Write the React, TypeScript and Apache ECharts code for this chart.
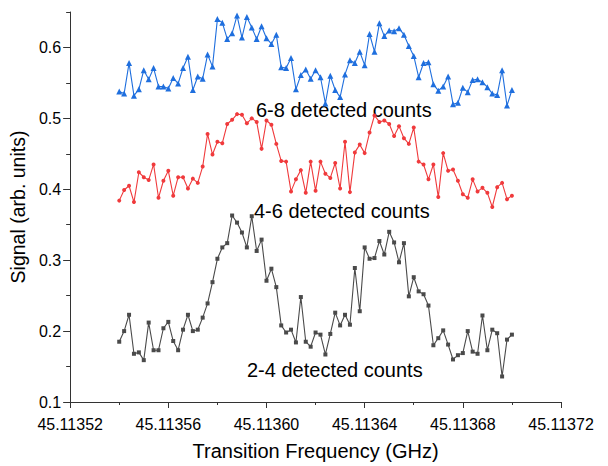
import React, { useEffect, useRef } from "react";
import * as echarts from "echarts";

// Transition frequency sweep (GHz)
const frequencies = [
  45.11354, 45.113542, 45.113544, 45.113546, 45.113548, 45.11355, 45.113552, 45.113554, 45.113556, 45.113558,
  45.11356, 45.113562, 45.113564, 45.113566, 45.113568, 45.11357, 45.113572, 45.113574, 45.113576, 45.113578,
  45.11358, 45.113582, 45.113584, 45.113586, 45.113588, 45.11359, 45.113592, 45.113594, 45.113596, 45.113598,
  45.1136, 45.113602, 45.113604, 45.113606, 45.113608, 45.11361, 45.113612, 45.113614, 45.113616, 45.113618,
  45.11362, 45.113622, 45.113624, 45.113626, 45.113628, 45.11363, 45.113632, 45.113634, 45.113636, 45.113638,
  45.11364, 45.113642, 45.113644, 45.113646, 45.113648, 45.11365, 45.113652, 45.113654, 45.113656, 45.113658,
  45.11366, 45.113662, 45.113664, 45.113666, 45.113668, 45.11367, 45.113672, 45.113674, 45.113676, 45.113678,
  45.11368, 45.113682, 45.113684, 45.113686, 45.113688, 45.11369, 45.113692, 45.113694, 45.113696, 45.113698,
  45.1137,
];

// 6-8 detected counts (blue, triangles)
const counts68 = [
  0.538, 0.535, 0.578, 0.532, 0.541, 0.568, 0.555, 0.571, 0.545, 0.545,
  0.542, 0.557, 0.549, 0.571, 0.587, 0.540, 0.559, 0.556, 0.590, 0.573,
  0.640, 0.635, 0.612, 0.620, 0.645, 0.614, 0.643, 0.628, 0.612, 0.630,
  0.613, 0.605, 0.618, 0.572, 0.571, 0.585, 0.541, 0.561, 0.569, 0.556,
  0.568, 0.558, 0.521, 0.560, 0.540, 0.530, 0.562, 0.582, 0.578, 0.594,
  0.575, 0.619, 0.594, 0.634, 0.616, 0.624, 0.623, 0.627, 0.618, 0.602,
  0.588, 0.558, 0.578, 0.579, 0.548, 0.539, 0.545, 0.559, 0.520, 0.522,
  0.543, 0.537, 0.554, 0.555, 0.551, 0.544, 0.535, 0.533, 0.568, 0.518,
  0.540,
];

// 4-6 detected counts (red, circles)
const counts46 = [
  0.384, 0.399, 0.405, 0.382, 0.424, 0.417, 0.413, 0.435, 0.388, 0.412,
  0.426, 0.391, 0.417, 0.417, 0.401, 0.415, 0.409, 0.432, 0.478, 0.449,
  0.467, 0.465, 0.492, 0.498, 0.506, 0.505, 0.493, 0.500, 0.495, 0.457,
  0.497, 0.491, 0.464, 0.440, 0.439, 0.397, 0.414, 0.427, 0.395, 0.439,
  0.398, 0.439, 0.422, 0.416, 0.437, 0.401, 0.467, 0.396, 0.452, 0.463,
  0.451, 0.480, 0.504, 0.495, 0.497, 0.492, 0.475, 0.489, 0.472, 0.464,
  0.487, 0.439, 0.435, 0.414, 0.435, 0.389, 0.451, 0.426, 0.428, 0.412,
  0.393, 0.388, 0.414, 0.397, 0.402, 0.395, 0.375, 0.403, 0.409, 0.386,
  0.391,
];

// 2-4 detected counts (dark grey, squares)
const counts24 = [
  0.185, 0.200, 0.223, 0.168, 0.170, 0.159, 0.212, 0.173, 0.173, 0.204,
  0.213, 0.186, 0.173, 0.202, 0.223, 0.200, 0.202, 0.219, 0.239, 0.269,
  0.302, 0.318, 0.324, 0.363, 0.353, 0.339, 0.318, 0.362, 0.313, 0.329,
  0.271, 0.288, 0.262, 0.208, 0.198, 0.202, 0.184, 0.248, 0.185, 0.178,
  0.198, 0.195, 0.167, 0.196, 0.226, 0.208, 0.223, 0.209, 0.289, 0.228,
  0.318, 0.302, 0.303, 0.327, 0.308, 0.340, 0.325, 0.297, 0.324, 0.249,
  0.276, 0.256, 0.252, 0.236, 0.180, 0.190, 0.201, 0.181, 0.160, 0.166,
  0.169, 0.200, 0.171, 0.168, 0.222, 0.173, 0.202, 0.197, 0.136, 0.188,
  0.195,
];

const yTickValues = [0.1, 0.2, 0.3, 0.4, 0.5, 0.6];
const seriesNames = ["6-8 detected counts", "4-6 detected counts", "2-4 detected counts"];

export default function App() {
  const ref = useRef<HTMLDivElement>(null);

  useEffect(() => {
    if (!ref.current) return;
    const chart = echarts.init(ref.current, null, { renderer: "svg" });
    const font = "'Liberation Sans', Arial, sans-serif";
    const axisColor = "#333333";
    const pair = (ys: number[]) => frequencies.map((f, i) => [f, ys[i]]);

    chart.setOption({
      animation: false,
      backgroundColor: "#ffffff",
      grid: { left: 70, right: 47, top: 12, bottom: 60 },
      xAxis: {
        type: "value",
        min: 45.11352,
        max: 45.11372,
        interval: 0.00004,
        name: "Transition Frequency (GHz)",
        nameLocation: "middle",
        nameGap: 39,
        nameTextStyle: { fontFamily: font, fontSize: 20, color: "#000" },
        axisLine: { show: true, onZero: false, lineStyle: { color: axisColor, width: 1 } },
        axisTick: { show: true, length: 6, lineStyle: { color: axisColor } },
        minorTick: { show: true, splitNumber: 2, length: 3, lineStyle: { color: axisColor } },
        axisLabel: {
          fontFamily: font,
          fontSize: 16,
          color: "#000",
          margin: 14,
          formatter: (v: number) => v.toFixed(5),
        },
        splitLine: { show: false },
        minorSplitLine: { show: false },
      },
      yAxis: [
        {
          type: "value",
          min: 0.1,
          max: 0.65,
          interval: 0.05,
          position: "left",
          name: "Signal (arb. units)",
          nameLocation: "middle",
          nameGap: 38,
          nameTextStyle: { fontFamily: font, fontSize: 19.5, color: "#000" },
          axisLine: { show: true, onZero: false, lineStyle: { color: axisColor, width: 1 } },
          axisTick: { show: true, length: 4, lineStyle: { color: axisColor } },
          axisLabel: {
            customValues: yTickValues,
            fontFamily: font,
            fontSize: 16,
            color: "#000",
            margin: 9,
            formatter: (v: number) => v.toFixed(1),
          },
          splitLine: { show: false },
        },
        {
          type: "value",
          min: 0.1,
          max: 0.65,
          interval: 0.05,
          position: "left",
          axisLine: { show: false },
          axisTick: { show: true, length: 7, customValues: yTickValues, lineStyle: { color: axisColor } },
          axisLabel: { show: false },
          splitLine: { show: false },
        },
      ],
      series: [
        {
          name: seriesNames[0],
          type: "line",
          data: pair(counts68),
          symbol: "triangle",
          symbolSize: 6,
          lineStyle: { color: "#1f6fde", width: 1.1 },
          itemStyle: { color: "#1f6fde" },
        },
        {
          name: seriesNames[1],
          type: "line",
          data: pair(counts46),
          symbol: "circle",
          symbolSize: 4,
          lineStyle: { color: "#f03a3c", width: 1.1 },
          itemStyle: { color: "#f03a3c" },
        },
        {
          name: seriesNames[2],
          type: "line",
          data: pair(counts24),
          symbol: "rect",
          symbolSize: 4,
          lineStyle: { color: "#4a4a4a", width: 1.1 },
          itemStyle: { color: "#4a4a4a" },
        },
      ],
      graphic: [
        {
          type: "text",
          x: 256,
          y: 110,
          style: { text: seriesNames[0], fontFamily: font, fontSize: 20, fill: "#000", textAlign: "left", textVerticalAlign: "middle", align: "left", verticalAlign: "middle" },
        },
        {
          type: "text",
          x: 254,
          y: 211,
          style: { text: seriesNames[1], fontFamily: font, fontSize: 20, fill: "#000", textAlign: "left", textVerticalAlign: "middle", align: "left", verticalAlign: "middle" },
        },
        {
          type: "text",
          x: 247,
          y: 370,
          style: { text: seriesNames[2], fontFamily: font, fontSize: 20, fill: "#000", textAlign: "left", textVerticalAlign: "middle", align: "left", verticalAlign: "middle" },
        },
      ],
    });

    return () => chart.dispose();
  }, []);

  return (
    <div
      ref={ref}
      style={{ position: "absolute", left: 0, top: 0, width: 608, height: 466 }}
    />
  );
}
